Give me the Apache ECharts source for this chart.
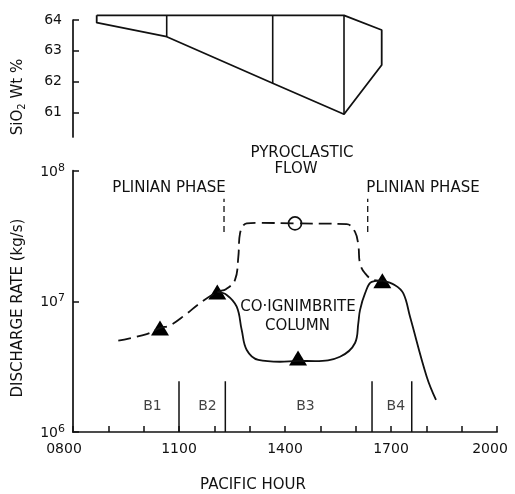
<!DOCTYPE html>
<html><head><meta charset="utf-8">
<script src="https://cdn.jsdelivr.net/npm/echarts@6/dist/echarts.min.js"></script>
<style>html,body{margin:0;padding:0;background:#fff}#c{width:515px;height:494px}</style>
</head><body><div id="c"></div>
<script>
// ---------- DATA ----------
const hourTickValues = [8, 11, 14, 17, 20];
const hourTickLabels = ['0800', '1100', '1400', '1700', '2000'];
const sio2TickValues = [61, 62, 63, 64];

// Top panel: SiO2 wt% envelope (time in decimal hours)
const sio2OutlineTime = [8.671, 15.670, 16.737, 16.737, 15.670, 13.652, 10.652, 8.671, 8.671];
const sio2OutlineWt   = [64.153, 64.153, 63.675, 62.538, 60.935, 61.943, 63.457, 63.912, 64.153];
const sio2DividerTime = [10.652, 13.652, 15.670];
const sio2DividerHigh = [64.153, 64.153, 64.153];
const sio2DividerLow  = [63.457, 61.943, 60.935];

// Bottom panel: discharge rate (kg/s)
// dashed: Plinian (B1-B2) and pyroclastic flow
const flowTime = [9.282, 10.086, 10.462, 10.745, 11.17, 11.595, 12.084, 12.33, 12.585, 12.679, 12.727, 12.917, 13.293, 14.283, 15.747, 15.982, 16.075, 16.123, 16.265, 16.50, 16.755];
const flowRate = [5.00e6, 5.62e6, 6.25e6, 6.55e6, 7.86e6, 9.7e6, 1.18e7, 1.24e7, 1.46e7, 2.19e7, 3.31e7, 3.95e7, 3.99e7, 3.95e7, 3.90e7, 3.40e7, 2.70e7, 1.95e7, 1.64e7, 1.46e7, 1.44e7];
// solid: co-ignimbrite column
const columnTime = [12.084, 12.35, 12.633, 12.775, 12.917, 13.245, 13.859, 14.37, 14.85, 15.557, 15.982, 16.075, 16.123, 16.265, 16.454, 16.755];
const columnRate = [1.18e7, 1.12e7, 9.10e6, 6.03e6, 4.24e6, 3.56e6, 3.45e6, 3.50e6, 3.49e6, 3.77e6, 4.80e6, 6.82e6, 8.57e6, 1.15e7, 1.41e7, 1.44e7];
// solid: late Plinian decline
const lateTime = [16.755, 17.114, 17.349, 17.539, 18.011, 18.274];
const lateRate = [1.44e7, 1.33e7, 1.15e7, 7.62e6, 2.65e6, 1.76e6];

// measured points
const triangleTime = [10.462, 12.084, 14.369, 16.755];
const triangleRate = [6.25e6, 1.18e7, 3.68e6, 1.44e7];
const circleTime = [14.283];
const circleRate = [3.95e7];

// eruptive units
const unitBoundTime = [11.0, 12.311, 16.463, 17.587];
const unitBoundTop = 2.45e6;
const unitNames = ['B1', 'B2', 'B3', 'B4'];
const unitLabelTime = [10.25, 11.807, 14.58, 17.137];
const unitLabelRate = 1.58e6;

// Plinian phase markers
const plinianMarkTime = [12.274, 16.341];
const plinianMarkLow = 3.4e7;
const plinianMarkHigh = 6.1e7;

// ---------- CHART ----------
const INK = '#111';
const FONT = 'DejaVu Sans';
const LW = 1.8;
const pairs = (xs, ys) => xs.map((x, i) => [x, ys[i]]);
const chart = echarts.init(document.getElementById('c'));

const series = [];
series.push({ type: 'line', xAxisIndex: 0, yAxisIndex: 0, data: pairs(sio2OutlineTime, sio2OutlineWt),
  symbol: 'none', clip: false, lineStyle: { color: INK, width: LW } });
sio2DividerTime.forEach((t, i) => series.push({ type: 'line', xAxisIndex: 0, yAxisIndex: 0,
  data: [[t, sio2DividerHigh[i]], [t, sio2DividerLow[i]]], symbol: 'none', clip: false,
  lineStyle: { color: INK, width: 1.6 } }));

series.push({ type: 'line', xAxisIndex: 1, yAxisIndex: 1, data: pairs(flowTime, flowRate), symbol: 'none',
  smooth: 0.4, lineStyle: { color: INK, width: LW, type: [13, 6] } });
series.push({ type: 'line', xAxisIndex: 1, yAxisIndex: 1, data: pairs(columnTime, columnRate), symbol: 'none',
  smooth: 0.4, lineStyle: { color: INK, width: LW } });
series.push({ type: 'line', xAxisIndex: 1, yAxisIndex: 1, data: pairs(lateTime, lateRate), symbol: 'none',
  smooth: 0.4, lineStyle: { color: INK, width: LW } });

unitBoundTime.forEach(t => series.push({ type: 'line', xAxisIndex: 1, yAxisIndex: 1,
  data: [[t, 1e6], [t, unitBoundTop]], symbol: 'none', lineStyle: { color: INK, width: 1.5 } }));
plinianMarkTime.forEach(t => series.push({ type: 'line', xAxisIndex: 1, yAxisIndex: 1,
  data: [[t, plinianMarkLow], [t, plinianMarkHigh]], symbol: 'none', lineStyle: { color: INK, width: 1.3, type: [6, 4] } }));

// halos to break lines around markers
series.push({ type: 'scatter', xAxisIndex: 1, yAxisIndex: 1, data: pairs(triangleTime, triangleRate),
  symbol: 'triangle', symbolSize: [26, 22], itemStyle: { color: '#fff', opacity: 1 }, silent: true });
series.push({ type: 'scatter', xAxisIndex: 1, yAxisIndex: 1, data: pairs(circleTime, circleRate),
  symbol: 'circle', symbolSize: 19, itemStyle: { color: '#fff', opacity: 1 }, silent: true });
series.push({ type: 'scatter', xAxisIndex: 1, yAxisIndex: 1, data: pairs(triangleTime, triangleRate),
  symbol: 'triangle', symbolSize: [18, 15], itemStyle: { color: '#000', opacity: 1 } });
series.push({ type: 'scatter', xAxisIndex: 1, yAxisIndex: 1, data: pairs(circleTime, circleRate),
  symbol: 'circle', symbolSize: 13, itemStyle: { color: '#fff', borderColor: INK, borderWidth: 1.7, opacity: 1 } });

series.push({ type: 'scatter', xAxisIndex: 1, yAxisIndex: 1,
  data: unitLabelTime.map((t, i) => ({ value: [t, unitLabelRate], name: unitNames[i] })),
  symbolSize: 0, label: { show: true, position: 'inside', formatter: p => p.name, color: INK, fontFamily: FONT, fontSize: 14 } });

const txt = (s, x, y, size, extra) => Object.assign({ type: 'text', x: x, y: y,
  style: { text: s, fill: INK, fontFamily: FONT, fontSize: size || 14, align: 'center', verticalAlign: 'middle' } }, extra || {});

const option = {
  animation: false,
  backgroundColor: '#fff',
  grid: [
    { left: 73, width: 424, top: 20, height: 116.9 },
    { left: 73, width: 424, top: 170.7, height: 261.3 }
  ],
  xAxis: [
    { gridIndex: 0, type: 'value', min: 8, max: 20, show: false },
    { gridIndex: 1, type: 'value', min: 8, max: 20, interval: 1,
      axisLine: { lineStyle: { color: INK, width: 1.7 } },
      axisTick: { inside: true, length: 6, lineStyle: { color: INK, width: 1.5 } },
      splitLine: { show: false },
      axisLabel: { margin: 10, color: INK, fontFamily: FONT, fontSize: 14,
        formatter: v => {
          const i = hourTickValues.indexOf(Math.round(v));
          if (i < 0 || Math.abs(v - Math.round(v)) > 1e-6) return '';
          if (i === 0) return '{l|' + hourTickLabels[i] + '}';
          if (i === hourTickValues.length - 1) return '{r|' + hourTickLabels[i] + '}';
          return hourTickLabels[i];
        },
        rich: { l: { padding: [0, 18, 0, 0], fontFamily: FONT, fontSize: 14, color: INK },
                r: { padding: [0, 14, 0, 0], fontFamily: FONT, fontSize: 14, color: INK } } } }
  ],
  yAxis: [
    { gridIndex: 0, type: 'value', min: 60.2, max: 64,
      axisLine: { show: true, lineStyle: { color: INK, width: 1.7 } },
      axisTick: { show: true, inside: true, length: 6, customValues: sio2TickValues, lineStyle: { color: INK, width: 1.5 } },
      splitLine: { show: false },
      axisLabel: { margin: 11, color: INK, fontFamily: FONT, fontSize: 14, customValues: sio2TickValues } },
    { gridIndex: 1, type: 'log', logBase: 10, min: 1e6, max: 1e8,
      axisLine: { show: true, lineStyle: { color: INK, width: 1.7 } },
      axisTick: { show: true, inside: true, length: 6, lineStyle: { color: INK, width: 1.5 } },
      minorTick: { show: false },
      splitLine: { show: false },
      axisLabel: { margin: 8, color: INK, fontFamily: FONT,
        formatter: v => '{b|10}{s|' + Math.round(Math.log10(v)) + '}',
        rich: { b: { fontSize: 14, lineHeight: 17, verticalAlign: 'bottom', fontFamily: FONT, color: INK },
                s: { fontSize: 11, lineHeight: 11, verticalAlign: 'top', fontFamily: FONT, color: INK } } } }
  ],
  series: series,
  graphic: [
    txt('PYROCLASTIC', 302, 153, 15),
    txt('FLOW', 296, 169, 15),
    txt('PLINIAN PHASE', 169, 188, 15),
    txt('PLINIAN PHASE', 423, 188, 15),
    txt('CO·IGNIMBRITE', 298, 307.5, 15),
    txt('COLUMN', 297.5, 326, 15),
    txt('PACIFIC HOUR', 253, 485, 15),
    txt('DISCHARGE RATE (kg/s)', 18, 308, 15, { rotation: Math.PI / 2 }),
    { type: 'text', x: 19, y: 97, rotation: Math.PI / 2,
      style: { text: '{n|SiO}{sub|2}{n| Wt %}', fill: INK, align: 'center', verticalAlign: 'middle',
        rich: { n: { fontSize: 15, lineHeight: 16, verticalAlign: 'top', fontFamily: FONT, fill: INK },
                sub: { fontSize: 10, lineHeight: 10, verticalAlign: 'bottom', fontFamily: FONT, fill: INK } } } }
  ]
};
chart.setOption(option);
</script></body></html>
